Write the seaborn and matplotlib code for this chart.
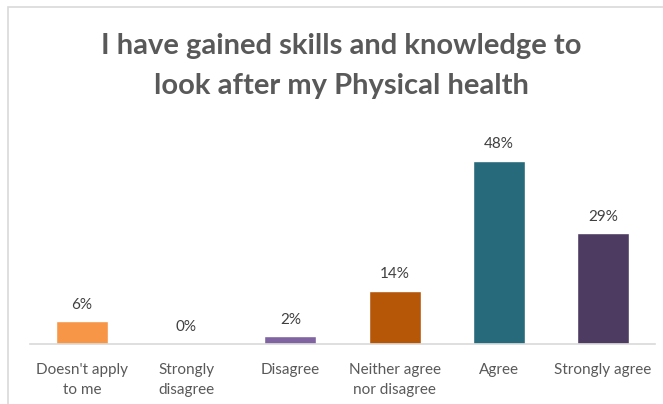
import matplotlib
matplotlib.use("Agg")
import matplotlib.pyplot as plt
import seaborn as sns
import pandas as pd
from matplotlib.patches import Rectangle

# ==========================================================
# DATA
# ==========================================================

categories = [
    "Doesn't apply\nto me",
    "Strongly\ndisagree",
    "Disagree",
    "Neither agree\nnor disagree",
    "Agree",
    "Strongly agree",
]

values = [6, 0, 2, 14, 48, 29]

labels = ["6%", "0%", "2%", "14%", "48%", "29%"]

colors = ["#F79646", "#9BBB59", "#8064A2", "#B65708", "#276A7C", "#4D3B62"]

title = "I have gained skills and knowledge to\nlook after my Physical health"

df = pd.DataFrame({"Category": categories, "Value": values})

# ==========================================================
# PLOT
# ==========================================================

sns.set_style("white")
plt.rcParams["font.family"] = ["Lato", "DejaVu Sans"]

W, H = 663, 404
fig = plt.figure(figsize=(W / 100, H / 100), dpi=100)

# chart frame (light grey, cropped at right / bottom)
fig.patches.append(Rectangle(
    (8 / W, -0.1), 1.2, (H - 7) / H + 0.1,
    transform=fig.transFigure, fill=False,
    edgecolor="#D9D9D9", linewidth=1.2
))

ax = fig.add_axes([30 / W, 60 / H, 625 / W, 191 / H])

sns.barplot(
    data=df,
    x="Category",
    y="Value",
    hue="Category",
    palette=colors,
    saturation=1,
    width=0.5,
    legend=False,
    ax=ax
)

ax.set_ylim(0, 50)
ax.set_xlim(-0.5, len(categories) - 0.5)

for i, (v, lab) in enumerate(zip(values, labels)):
    ax.text(i, v + 2.5, lab, ha="center", va="bottom",
            fontsize=11, color="#404040", clip_on=False)

for s in ["top", "right", "left"]:
    ax.spines[s].set_visible(False)
ax.spines["bottom"].set_color("#D9D9D9")
ax.spines["bottom"].set_linewidth(1.2)

ax.set_yticks([])
ax.set_xlabel("")
ax.set_ylabel("")
ax.tick_params(axis="x", length=0, pad=14, labelsize=11, labelcolor="#595959")
for t in ax.get_xticklabels():
    t.set_linespacing(1.55)

fig.text(341 / W, 1 - 66 / H, title, ha="center", va="center",
         fontsize=21, fontweight="bold", color="#595959", linespacing=1.7)

plt.savefig("out.png", dpi=100)
plt.close()
